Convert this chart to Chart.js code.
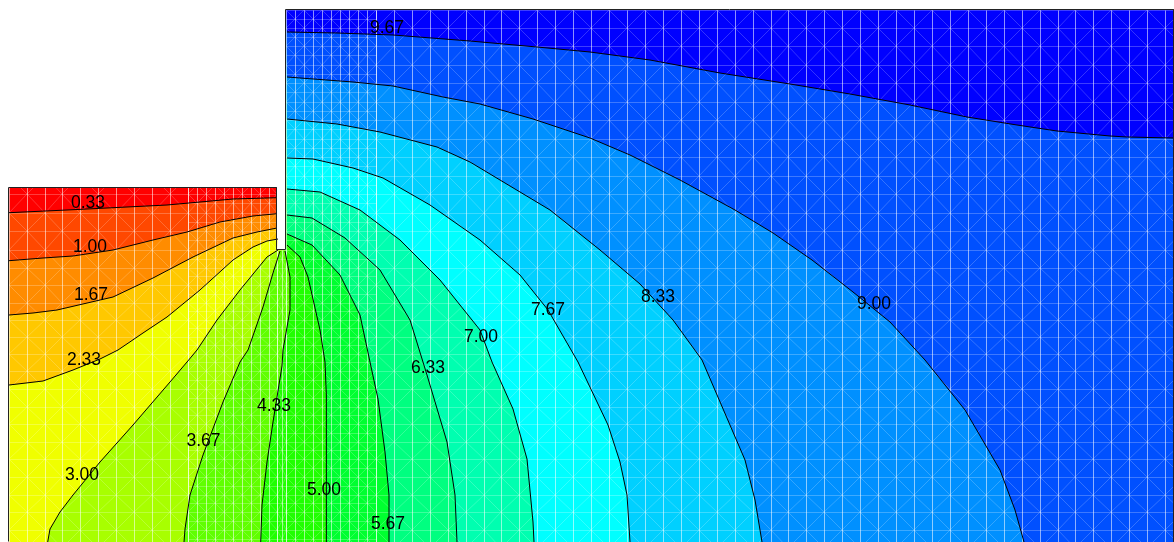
<!DOCTYPE html>
<html>
<head>
<meta charset="utf-8">
<script src="https://cdn.jsdelivr.net/npm/chart.js@4"></script>
<style>
  html, body { margin: 0; padding: 0; background: #fff; overflow: hidden; }
  canvas { display: block; }
</style>
</head>
<body>
<canvas id="contour" width="1174" height="542"></canvas>
<script>
// contour levels, lowest first
const levels = ['0.33', '1.00', '1.67', '2.33', '3.00', '3.67', '4.33', '5.00', '5.67', '6.33', '7.00', '7.67', '8.33', '9.00', '9.67'];
// one more band than levels
const bandColors = ['#ff0000', '#ff4800', '#ff8c00', '#ffc800', '#f0ff00', '#a8ff00', '#60ff00', '#20ff00',
    '#00ff30', '#00ff80', '#00ffb0', '#00ffff', '#00d0ff', '#0090ff', '#0050ff', '#0000ff'];

const line033 = [[9,212.7],[67,210],[127,207],[167,205],[200,202],[233,199],[277,197.7]];
const line100 = [[9,260.7],[43,258],[73,256],[113,250],[153,240],[187,232],[220,222],[253,216],[277,213.7]];
const line167 = [[9,315],[33,313],[57,310],[113,297],[153,278],[193,257],[233,238],[257,232],[277,228]];
const line233 = [[9,385],[43,381],[73,370],[100,359],[118,350],[143,333],[167,317],[200,290],[233,260],[253,247],[267,241],[278,239]];
const line300 = [[47.7,542],[50,529],[60,512],[73,495],[100,462],[133,425],[170,382],[187,362],[197,350],[217,320],[240,290],[267,257],[278,250]];
const line367 = [[184,542],[185,529],[190,495],[203,455],[223,402],[240,362],[248,350],[263,307],[273,273],[280,251]];
const line433 = [[260.7,542],[262,505],[267,462],[273,422],[282,366],[283,350],[290,310],[290,277],[285,251]];
const line500 = [[326,542],[326,462],[326.7,395],[325,362],[320,330],[308,277],[300,257],[287,245]];
const line567 = [[389,542],[389,495],[385,452],[378,399],[370,362],[360,315],[340,275],[312,245],[287,234]];
const line633 = [[457,542],[455,495],[447,442],[427,375],[410,320],[380,270],[345,238],[312,218],[287,215]];
const line700 = [[534,542],[533,522],[527,459],[513,409],[492,362],[480,330],[440,280],[400,240],[360,210],[320,192],[287,189]];
const line767 = [[630,542],[627,495],[620,462],[608,425],[578,362],[548,310],[520,275],[480,240],[430,205],[383,178],[353,168],[313,159],[287,158]];
const line833 = [[762,542],[755,500],[745,460],[702,360],[673,320],[640,284],[600,250],[550,210],[500,180],[470,162],[437,147],[380,132],[337,124],[287,119]];
const line900 = [[1024,542],[1015,510],[1000,470],[965,410],[925,360],[890,322],[853,292],[812,260],[773,233],[735,210],[680,180],[630,155],[590,138],[533,119],[480,104],[443,97],[393,86],[353,82],[287,77]];
const line967 = [[287,32],[337,33],[393,35],[470,41],[537,47],[590,52],[650,60],[720,73],[790,84],[850,94],[910,105],[967,117],[1017,125],[1057,131],[1110,136],[1127,137],[1174,138]];
const contourLines = [line033, line100, line167, line233, line300, line367, line433, line500, line567, line633, line700, line767, line833, line900, line967];

// where the level numbers sit
const labelX = [88, 90, 91, 84, 82, 203.5, 274, 324, 388, 428, 481, 548, 658, 874, 387];
const labelY = [203, 247, 295, 360, 475.5, 441, 406, 490, 524, 368, 337, 310, 297, 304, 28];

// outline of the body, notch included
const outline = [[9,542],[9,188],[277,188],[277,250],[286,250],[286,10],[1174,10],[1174,542]];

// finite element mesh rows and columns
const meshRows = [176,194,213,231,250,268,285,303,320,337,354,371,389,407,424,442,459,477,495,512,530,548];
const meshRowsTop = [10,28,46,65,83,102,120,139,157];
const fineRows = [10,19,28,37,46,55,65,74,83,92,102,111,120,129,139,148,157,166,176,185,194,203,213,222,231,240,250,259,268,276,285,294,303,311,320,328,337,345,354,362,371,380,389,398,407,415,424,433,442,450,459,468,477,486,495,503,512,521,530,539,548];
const leftCols = [9,27,45,62,80,98,116,134,152,170,188];
const leftFineCols = [188,197,206,215,224,233,242,251,260,269,277];
const tipCols = [277,282,286];
const rightFineCols = [286,295,304,313,322,331,340,349,358,367,376];
const rightCols = [376,394,412,430,448,466,484,501,519,537,555,573,591,609,627,645,663,681,699,717,735,753,771,788,806,824,842,860,878,896,914,932,950,968,986,1004,1022,1040,1058,1075,1093,1111,1129,1147,1165,1183];

function addMesh(grid, diag, xs, ys, parity) {
    const top = ys[0] + 0.5, bottom = ys[ys.length - 1] + 0.5;
    const left = xs[0] + 0.5, right = xs[xs.length - 1] + 0.5;
    xs.forEach(x => grid.push({x: x + 0.5, y: top}, {x: x + 0.5, y: bottom}, {x: NaN, y: NaN}));
    ys.forEach(y => grid.push({x: left, y: y + 0.5}, {x: right, y: y + 0.5}, {x: NaN, y: NaN}));
    for (let i = 0; i < xs.length - 1; i++) {
        for (let j = 0; j < ys.length - 1; j++) {
            if ((i + j) % 2 === parity) {
                diag.push({x: xs[i], y: ys[j]}, {x: xs[i + 1], y: ys[j + 1]}, {x: NaN, y: NaN});
            } else {
                diag.push({x: xs[i + 1], y: ys[j]}, {x: xs[i], y: ys[j + 1]}, {x: NaN, y: NaN});
            }
        }
    }
}

const toPoints = list => list.map(p => ({x: p[0], y: p[1]}));

// each band is painted over the previous one, so a polygon covers everything above its level
function bandPolygon(index) {
    const path = contourLines[index];
    if (index === 14) return path.concat([[1174,10],[286,10]]);
    if (index < 4) return path.concat([[277,250],[286,250],[286,10],[1174,10],[1174,542],[9,542]]);
    if (index < 7) return path.concat([[286,250],[286,10],[1174,10],[1174,542]]);
    return path.concat([[286,10],[1174,10],[1174,542]]);
}

const meshGrid = [], meshDiag = [];
const rightRows = meshRowsTop.concat(meshRows);
addMesh(meshGrid, meshDiag, leftCols, meshRows, 0);
addMesh(meshGrid, meshDiag, leftFineCols, fineRows.filter(y => y >= 176), 0);
addMesh(meshGrid, meshDiag, tipCols, fineRows.filter(y => y >= 250), 0);
addMesh(meshGrid, meshDiag, rightFineCols, fineRows, 0);
addMesh(meshGrid, meshDiag, rightCols, rightRows, 1);

const datasets = [];
// base colour
datasets.push({
    data: toPoints(outline), showLine: true, fill: 'shape', backgroundColor: bandColors[0],
    borderWidth: 0, pointRadius: 0, order: 100
});
contourLines.forEach((path, i) => {
    datasets.push({
        data: toPoints(bandPolygon(i)), showLine: true, fill: 'shape', backgroundColor: bandColors[i + 1],
        borderWidth: 0, pointRadius: 0, order: 99 - i
    });
});
datasets.push({data: meshDiag, showLine: true, borderColor: 'rgba(255,255,255,0.2)', borderWidth: 1, pointRadius: 0, order: 12});
datasets.push({data: meshGrid, showLine: true, borderColor: 'rgba(255,255,255,0.24)', borderWidth: 1, pointRadius: 0, order: 11});
contourLines.forEach(path => {
    datasets.push({data: toPoints(path), showLine: true, borderColor: '#000', borderWidth: 1, pointRadius: 0, order: 5});
});
datasets.push({
    data: toPoints(outline).map(p => ({x: p.x - 0.5, y: p.y - 0.5})), showLine: true,
    borderColor: '#222', borderWidth: 1, pointRadius: 0, order: 1
});

// level numbers, written on top of everything
const levelLabels = {
    id: 'levelLabels',
    afterDatasetsDraw(chart) {
        const {ctx, scales} = chart;
        ctx.save();
        ctx.font = '17.5px "Liberation Sans", Arial, sans-serif';
        ctx.fillStyle = '#000';
        ctx.textAlign = 'center';
        ctx.textBaseline = 'middle';
        levels.forEach((text, i) => {
            ctx.fillText(text, scales.x.getPixelForValue(labelX[i]), scales.y.getPixelForValue(labelY[i]));
        });
        ctx.restore();
    }
};

new Chart(document.getElementById('contour').getContext('2d'), {
    type: 'scatter',
    data: {datasets: datasets},
    plugins: [levelLabels],
    options: {
        responsive: false,
        animation: false,
        layout: {padding: 0},
        elements: {line: {tension: 0}},
        scales: {
            x: {type: 'linear', min: 0, max: 1174, display: false},
            y: {type: 'linear', min: 0, max: 542, reverse: true, display: false}
        },
        plugins: {legend: {display: false}, tooltip: {enabled: false}}
    }
});
</script>
</body>
</html>
